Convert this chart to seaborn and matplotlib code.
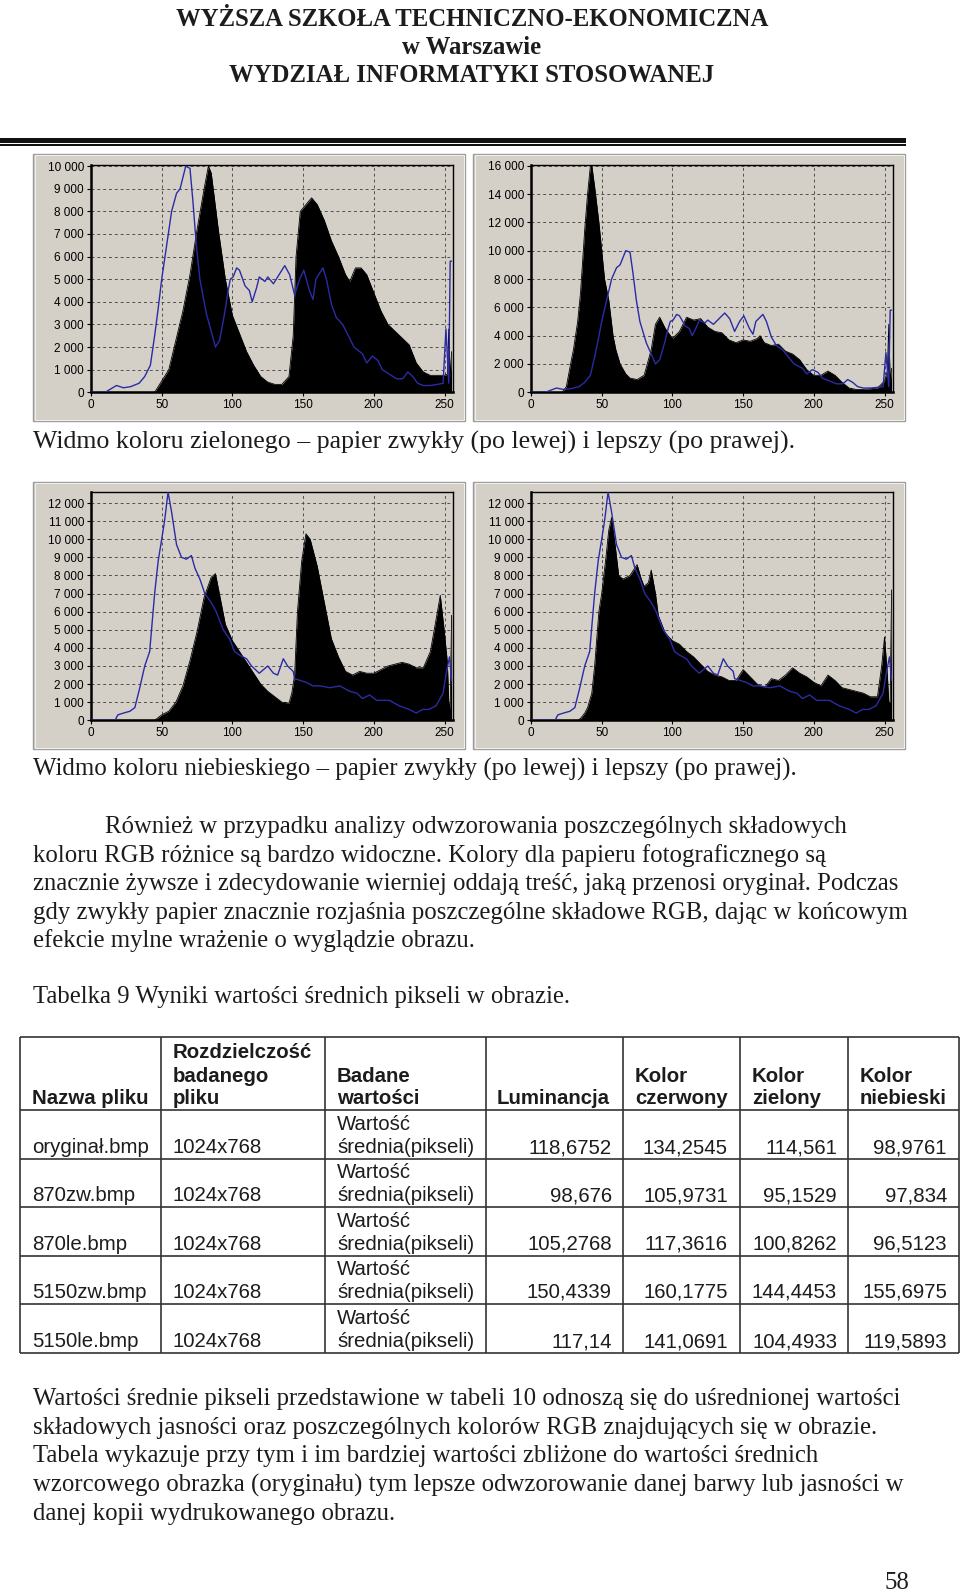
import matplotlib
matplotlib.use("Agg")
import matplotlib.pyplot as plt
from matplotlib.patches import Rectangle
from matplotlib.lines import Line2D
import seaborn as sns

W, H = 960, 1591

# ---------------- data ----------------
# blue reference curve (original image), green channel panels
BLUE_TOP_X = [0, 10, 14, 18, 23, 28, 34, 38, 42, 45, 47.5, 50, 53.5, 57, 60.5, 63, 65, 67, 70, 72,
              74.5, 77, 81.5, 85, 88, 91, 94.5, 97, 98.5, 100.5, 103, 105, 109, 112, 114, 117, 119, 123, 125, 129,
              132, 137, 140.5, 144, 147.5, 150.5, 154.5, 157, 159, 164, 166.5, 170, 173.5, 178, 182, 186, 192, 195, 199, 203,
              206, 211, 216, 220.5, 224, 227.5, 231, 235, 240, 245, 249, 251, 253, 254, 255]
BLUE_TOP_Y = [0, 0, 150, 300, 200, 250, 400, 700, 1200, 2500, 3700, 5000, 6500, 8000, 8800, 9000, 9500, 10000, 9900, 8500,
              6500, 5000, 3500, 2700, 2000, 2300, 3500, 4500, 5000, 5100, 5500, 5400, 4700, 4500, 4000, 4600, 5100, 4900, 5100, 4800,
              5100, 5600, 5200, 4300, 5000, 5400, 4500, 4100, 5000, 5500, 5000, 3900, 3300, 3000, 2500, 2000, 1700, 1300, 1600, 1400,
              1000, 800, 600, 600, 900, 700, 400, 300, 300, 350, 400, 2800, 400, 5800, 5800]

# blue reference curve (original image), blue channel panels
BLUE_BOT_X = [0, 17, 19, 23, 27.5, 31, 34.5, 38, 41.5, 45, 47.5, 50, 52, 54.5, 57, 60.5, 64, 67.5, 71, 73.5,
              77, 80.5, 85, 88.5, 93.5, 98, 101.5, 105, 110, 113.5, 119, 125, 129, 132, 136, 139, 143, 144, 152, 157,
              162, 169, 176, 183, 188, 192, 197, 202, 206, 211, 218, 225, 230, 234.5, 239, 244, 249, 251, 253.5, 255]
BLUE_BOT_Y = [0, 0, 300, 400, 500, 700, 1800, 3000, 3800, 7000, 8800, 10000, 11000, 12600, 11500, 9700, 9000, 8900, 9100, 8400,
              7800, 7000, 6500, 6000, 5000, 4500, 3800, 3600, 3400, 3000, 2600, 3000, 2600, 2500, 3400, 3000, 2700, 2300, 2100, 1900,
              1900, 1800, 1900, 1600, 1500, 1200, 1400, 1100, 1100, 1100, 800, 600, 400, 600, 600, 800, 1500, 2500, 3500, 2200]

# black histograms of the printed copies
GREEN_PLAIN_X = [0, 45, 50, 55, 60, 65, 70, 75, 80, 83, 85, 90, 95, 100, 105, 110, 115, 120, 125, 130,
                 135, 140, 143, 145, 148, 152, 156, 160, 165, 170, 175, 180, 183, 187, 191, 195, 200, 205, 210, 215,
                 220, 225, 230, 235, 240, 245, 250, 252, 253, 254, 255]
GREEN_PLAIN_Y = [0, 0, 500, 1000, 2300, 3600, 5200, 7200, 9000, 10000, 9700, 7200, 5000, 3400, 2600, 1800, 1200, 700, 450, 350,
                 350, 700, 2500, 6000, 8000, 8300, 8600, 8300, 7600, 6700, 6000, 5200, 4900, 5500, 5500, 5200, 4400, 3600, 3000, 2700,
                 2400, 2100, 1300, 900, 750, 750, 750, 800, 2800, 600, 1800]

GREEN_PHOTO_X = [0, 22, 25, 28, 30, 33, 35, 38, 40, 42, 43, 45, 48, 50, 52, 55, 58, 60, 63, 67,
                 70, 75, 80, 85, 88, 91, 95, 100, 105, 110, 115, 120, 125, 130, 135, 140, 145, 150, 155, 160,
                 162, 165, 170, 175, 180, 185, 190, 195, 200, 205, 210, 215, 220, 225, 230, 235, 240, 245, 250, 252,
                 253, 254, 255]
GREEN_PHOTO_Y = [0, 0, 400, 2000, 3000, 5000, 7000, 11500, 14000, 16000, 16000, 14500, 12000, 10000, 8000, 6500, 4000, 3000, 2000, 1300,
                 1000, 900, 1200, 3000, 4800, 5300, 4500, 3800, 4300, 5300, 5100, 5200, 4600, 4300, 4200, 3700, 3500, 3700, 3600, 3800,
                 4000, 3500, 3300, 3400, 2900, 2700, 2300, 1600, 1200, 1200, 1500, 1200, 700, 300, 200, 200, 250, 300, 800, 1500,
                 4800, 700, 1700]

BLUE_PLAIN_X = [0, 45, 50, 55, 60, 65, 70, 75, 80, 85, 88, 90, 95, 100, 105, 110, 115, 120, 125, 130,
                135, 140, 142, 144, 146, 149, 152, 155, 160, 165, 170, 175, 180, 185, 190, 195, 200, 205, 210, 215,
                220, 225, 230, 235, 240, 245, 247, 250, 252, 253, 254, 255]
BLUE_PLAIN_Y = [0, 0, 300, 500, 1000, 1900, 3300, 4900, 6800, 7900, 8100, 7300, 5300, 4400, 3800, 3200, 2600, 2000, 1600, 1300,
                1000, 950, 1500, 2500, 6000, 8800, 10300, 10000, 8500, 6500, 4500, 3500, 2700, 2500, 2700, 2600, 2600, 2800, 3000, 3100,
                3200, 3100, 2900, 2900, 3800, 6000, 6900, 4800, 3200, 1000, 600, 5800]

BLUE_PHOTO_X = [0, 33, 35, 38, 40, 43, 45, 48, 50, 53, 55, 57, 59, 62, 65, 70, 75, 78, 80, 83,
                85, 88, 90, 95, 100, 105, 110, 115, 120, 125, 130, 135, 140, 145, 150, 155, 160, 165, 170, 175,
                180, 185, 190, 195, 200, 205, 210, 215, 220, 225, 230, 235, 240, 245, 248, 250, 252, 253, 254, 255]
BLUE_PHOTO_Y = [0, 0, 100, 400, 700, 1500, 3000, 6000, 7000, 9000, 10500, 11200, 10000, 8000, 7800, 8000, 8600, 7800, 7400, 7600,
                8300, 7000, 5800, 4800, 4400, 4200, 3800, 3500, 3100, 2700, 2500, 2400, 2200, 2200, 2800, 2400, 2000, 1800, 2300, 2200,
                2500, 2900, 2600, 2400, 2100, 1900, 2500, 2200, 1800, 1700, 1600, 1500, 1300, 1300, 3000, 4600, 2500, 1000, 1000, 7200]

X_TICKS = [0, 50, 100, 150, 200, 250]
Y_TICKS_TL = list(range(0, 10001, 1000))
Y_TICKS_TR = list(range(0, 16001, 2000))
Y_TICKS_BOT = list(range(0, 12001, 1000))

# table
TABLE_HEADERS = [["Nazwa pliku"], ["Rozdzielczość", "badanego", "pliku"], ["Badane", "wartości"],
                 ["Luminancja"], ["Kolor", "czerwony"], ["Kolor", "zielony"], ["Kolor", "niebieski"]]
FILES = ["oryginał.bmp", "870zw.bmp", "870le.bmp", "5150zw.bmp", "5150le.bmp"]
RESOLUTION = ["1024x768", "1024x768", "1024x768", "1024x768", "1024x768"]
MEASURE = ["Wartość", "średnia(pikseli)"]
LUMINANCE = [118.6752, 98.676, 105.2768, 150.4339, 117.14]
RED = [134.2545, 105.9731, 117.3616, 160.1775, 141.0691]
GREEN = [114.561, 95.1529, 100.8262, 144.4453, 104.4933]
BLUE = [98.9761, 97.834, 96.5123, 155.6975, 119.5893]

HEADER = ["WYŻSZA SZKOŁA TECHNICZNO-EKONOMICZNA", "w Warszawie", "WYDZIAŁ INFORMATYKI STOSOWANEJ"]
CAPTION_1 = "Widmo koloru zielonego – papier zwykły (po lewej) i lepszy (po prawej)."
CAPTION_2 = "Widmo koloru niebieskiego – papier zwykły (po lewej) i lepszy (po prawej)."
PARAGRAPH_1 = ["Również w przypadku analizy odwzorowania poszczególnych składowych",
               "koloru RGB różnice są bardzo widoczne. Kolory dla papieru fotograficznego są",
               "znacznie żywsze i zdecydowanie wierniej oddają treść, jaką przenosi oryginał. Podczas",
               "gdy zwykły papier znacznie rozjaśnia poszczególne składowe RGB, dając w końcowym",
               "efekcie mylne wrażenie o wyglądzie obrazu."]
TABLE_TITLE = "Tabelka 9 Wyniki wartości średnich pikseli w obrazie."
PARAGRAPH_2 = ["Wartości średnie pikseli przedstawione w tabeli 10 odnoszą się do uśrednionej wartości",
               "składowych jasności oraz poszczególnych kolorów RGB znajdujących się w obrazie.",
               "Tabela wykazuje przy tym i im bardziej wartości zbliżone do wartości średnich",
               "wzorcowego obrazka (oryginału) tym lepsze odwzorowanie danej barwy lub jasności w",
               "danej kopii wydrukowanego obrazu."]
PAGE_NUMBER = "58"

# ---------------- styling ----------------
sns.set_style("white")
plt.rcParams['font.family'] = ['Liberation Serif', 'DejaVu Serif']

PANEL_BG = "#d4d0c8"
LINE_BLUE = "#2b2ba6"
TXT = "#1c1c1c"
SERIF = ['Liberation Serif', 'DejaVu Serif']
SANS = ['Liberation Sans', 'DejaVu Sans']
BODY = 17.8

fig = plt.figure(figsize=(W / 100, H / 100), dpi=100)
fig.patch.set_facecolor("white")


def fx(x):
    return x / W


def fy(y):
    return 1 - y / H


def text(x, y, s, size=BODY, family=SERIF, **kw):
    kw.setdefault("va", "center")
    kw.setdefault("ha", "left")
    kw.setdefault("color", TXT)
    fig.text(fx(x), fy(y), s, fontsize=size, family=family, **kw)


def rect_px(x0, y0, x1, y1, **kw):
    fig.add_artist(Rectangle((fx(x0), fy(y1)), (x1 - x0) / W, (y1 - y0) / H,
                             transform=fig.transFigure, **kw))


def hline(x0, x1, y, lw=1.2, color="#333333"):
    fig.add_artist(Line2D([fx(x0), fx(x1)], [fy(y), fy(y)], transform=fig.transFigure,
                          lw=lw, color=color, solid_capstyle="butt"))


def vline(x, y0, y1, lw=1.2, color="#333333"):
    fig.add_artist(Line2D([fx(x), fx(x)], [fy(y0), fy(y1)], transform=fig.transFigure,
                          lw=lw, color=color, solid_capstyle="butt"))


def panel(box, plot, ymax, yticks, bx, by, lx, ly):
    x0, y0, x1, y1 = box
    rect_px(x0, y0, x1, y1, facecolor=PANEL_BG, edgecolor="#9a9a9a", lw=1.0, zorder=0)
    rect_px(x0 + 1.5, y0 + 1.5, x1 - 1.5, y1 - 1.5, facecolor="none", edgecolor="#eeeeea", lw=0.8, zorder=0)
    px0, py0, px1, py1 = plot
    ax = fig.add_axes([fx(px0), fy(py1), (px1 - px0) / W, (py1 - py0) / H])
    ax.set_facecolor(PANEL_BG)
    sns.lineplot(x=bx, y=by, ax=ax, color="black", lw=0.6, zorder=2)
    ax.fill_between(bx, 0, by, color="black", lw=0, zorder=2)
    sns.lineplot(x=lx, y=ly, ax=ax, color=LINE_BLUE, lw=1.0, zorder=3)
    ax.set_xlim(0, 256)
    ax.set_ylim(0, ymax)
    ax.set_xticks(X_TICKS)
    ax.set_yticks(yticks)
    ax.set_yticklabels([f"{v:,}".replace(",", " ") for v in yticks])
    ax.set_axisbelow(True)
    ax.grid(True, linestyle=(0, (3, 3)), color="#505050", lw=0.7)
    for s in ax.spines.values():
        s.set_color("black")
        s.set_linewidth(1.0)
        s.set_visible(True)
    ax.spines["left"].set_linewidth(1.8)
    ax.spines["bottom"].set_linewidth(1.8)
    ax.tick_params(axis="both", labelsize=8.5, direction="out", length=3, width=0.8,
                   colors="black", pad=2, left=True, bottom=True)
    for lab in ax.get_xticklabels() + ax.get_yticklabels():
        lab.set_family(SANS)
    ax.set_xlabel("")
    ax.set_ylabel("")
    return ax


# ---------------- header ----------------
for i, line in enumerate(HEADER):
    text(472, [19.5, 47.5, 75.5][i], line, size=17.85, weight="bold", ha="center")
rect_px(0, 138, 906, 142.5, facecolor="#111111", lw=0)
rect_px(0, 144, 906, 145.8, facecolor="#111111", lw=0)

# ---------------- histograms ----------------
panel((33, 154, 465, 421), (91, 165, 453, 392.3), 10050, Y_TICKS_TL,
      GREEN_PLAIN_X, GREEN_PLAIN_Y, BLUE_TOP_X, BLUE_TOP_Y)
panel((473, 154, 905, 421), (531, 165, 893, 392.3), 16050, Y_TICKS_TR,
      GREEN_PHOTO_X, GREEN_PHOTO_Y, BLUE_TOP_X, BLUE_TOP_Y)
text(33, 442, CAPTION_1, size=18.6)

panel((33, 482, 465, 749), (91, 492, 453, 720.3), 12610, Y_TICKS_BOT,
      BLUE_PLAIN_X, BLUE_PLAIN_Y, BLUE_BOT_X, BLUE_BOT_Y)
panel((473, 482, 905, 749), (531, 492, 893, 720.3), 12610, Y_TICKS_BOT,
      BLUE_PHOTO_X, BLUE_PHOTO_Y, BLUE_BOT_X, BLUE_BOT_Y)
text(33, 769, CAPTION_2, size=17.9)

# ---------------- paragraph ----------------
for i, line in enumerate(PARAGRAPH_1):
    text(105 if i == 0 else 33, 827 + i * 28.5, line)
text(33, 997, TABLE_TITLE)

# ---------------- table ----------------
COLS = [20, 161, 325, 486, 623, 740, 848, 959]
ROWS = [1037, 1110, 1159, 1207, 1256, 1304, 1353]
for x in COLS:
    vline(x, ROWS[0], ROWS[-1])
for y in ROWS:
    hline(COLS[0], COLS[-1], y)

TS = 14.7
header_x = [32, 173, 337, 497, 635, 752, 860]
for c, lines in enumerate(TABLE_HEADERS):
    n = len(lines)
    for j, s in enumerate(lines):
        yy = 1099 - (n - 1 - j) * 23
        text(header_x[c], yy, s, size=TS, family=SANS, weight="bold")

num_right = [612, 728, 837, 947]
for r in range(len(FILES)):
    yb = ROWS[r + 2]
    text(32, yb - 11.5, FILES[r], size=TS, family=SANS)
    text(173, yb - 11.5, RESOLUTION[r], size=TS, family=SANS)
    text(337, yb - 34.5, MEASURE[0], size=TS, family=SANS)
    text(337, yb - 11.5, MEASURE[1], size=TS, family=SANS)
    for k, vals in enumerate([LUMINANCE, RED, GREEN, BLUE]):
        text(num_right[k], yb - 11.5, f"{vals[r]}".replace(".", ","), size=TS, family=SANS, ha="right")

# ---------------- closing paragraph ----------------
for i, line in enumerate(PARAGRAPH_2):
    text(33, 1399 + i * 28.7, line)
text(909, 1583, PAGE_NUMBER, ha="right")

fig.savefig("out.png", dpi=100, facecolor="white")
